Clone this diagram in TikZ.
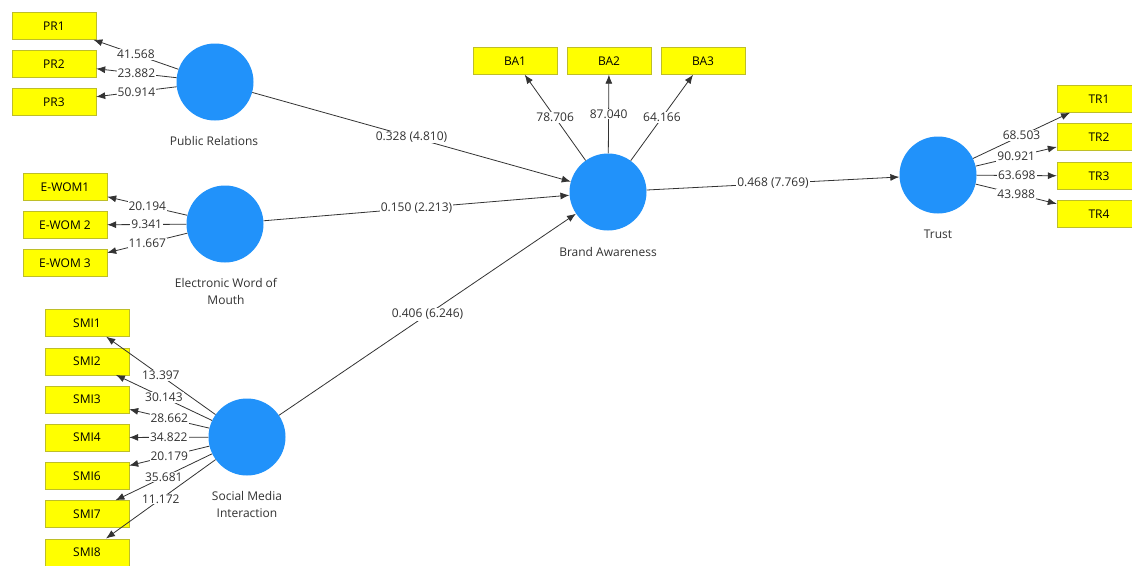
\documentclass[tikz,border=0pt]{standalone}
\usepackage{fontspec}
\setmainfont{Open Sans}
\usetikzlibrary{arrows.meta}
\usepackage{xcolor}
\definecolor{plsblue}{RGB}{33,146,250}
\definecolor{plsyellow}{RGB}{255,255,0}
\definecolor{plsedge}{RGB}{190,190,40}
\definecolor{plstext}{RGB}{50,50,50}
\tikzstyle{latent}=[circle, fill=plsblue, inner sep=0pt, minimum size=77pt]
\tikzstyle{caption}=[align=center, inner sep=0pt, text=plstext, font=\fontsize{12}{17}\selectfont]
\tikzstyle{indicator}=[rectangle, draw=plsedge, fill=plsyellow, minimum width=84pt, minimum height=27pt, inner sep=0pt, font=\fontsize{12}{14}\selectfont]
\tikzstyle{weight}=[fill=white, inner sep=1pt, text=plstext, font=\fontsize{12}{14}\selectfont]
\tikzstyle{link}=[draw=black!80, line width=0.8pt, -{Latex[length=9pt,width=7pt]}]
\newcommand{\latent}{\node[latent]}
\newcommand{\indicator}{\node[indicator]}

\begin{document}
\begin{tikzpicture}[x=1pt, y=-1pt]
\useasboundingbox (0,0) rectangle (1132,565);
\fill[white] (0,0) rectangle (1132,565);
\latent (pr) at (215,82){};
\latent (ewom) at (225,224){};
\latent (smi) at (247,437){};
\latent (ba) at (608,192){};
\latent (tr) at (938,175){};
\node[caption] (prcap) at (214,141) {Public Relations};
\node[caption] (ewomcap) at (226,291) {Electronic Word of\\Mouth};
\node[caption] (smicap) at (247,504) {Social Media\\Interaction};
\node[caption] (bacap) at (608,252) {Brand Awareness};
\node[caption] (trcap) at (938,234) {Trust};
\foreach \i/\y in {1/26,2/64,3/102}{
	\indicator (pr\i) at (54,\y) {PR\i};
	}
\foreach \i/\t in {1/E-WOM1,2/E-WOM 2,3/E-WOM 3}{
	\indicator (ewom\i) at (65,149+38*\i) {\t};
	}
\foreach \n [count=\k] in {1,2,3,4,6,7,8}{
	\indicator (smi\n) at (87,284.8+38.2*\k) {SMI\n};
	}
\foreach \i/\x in {1/515,2/609,3/703}{
	\indicator (ba\i) at (\x,61) {BA\i};
	}
\foreach \i/\y in {1/99,2/137,3/176,4/214}{
	\indicator (tr\i) at (1099,\y) {TR\i};
	}
\foreach \i/\w in {1/41.568,2/23.882,3/50.914}
	\draw[link] (pr) -- node[weight]{\w} (pr\i);
\foreach \i/\w in {1/20.194,2/9.341,3/11.667}
	\draw[link] (ewom) -- node[weight]{\w} (ewom\i);
\foreach \n/\w in {1/13.397,2/30.143,3/28.662,4/34.822,6/20.179,7/35.681,8/11.172}
	\draw[link] (smi) -- node[weight]{\w} (smi\n);
\foreach \i/\w in {1/78.706,2/87.040,3/64.166}
	\draw[link] (ba) -- node[weight]{\w} (ba\i);
\foreach \i/\w in {1/68.503,2/90.921,3/63.698,4/43.988}
	\draw[link] (tr) -- node[weight]{\w} (tr\i);
\draw[link] (pr) -- node[weight]{0.328 (4.810)} (ba);
\draw[link] (ewom) -- node[weight]{0.150 (2.213)} (ba);
\draw[link] (smi) -- node[weight]{0.406 (6.246)} (ba);
\draw[link] (ba) -- node[weight]{0.468 (7.769)} (tr);
\end{tikzpicture}
\end{document}
